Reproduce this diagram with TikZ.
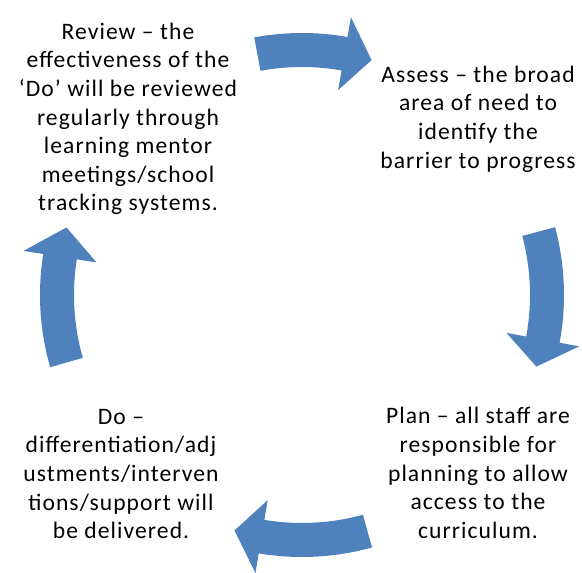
\documentclass[tikz,border=0pt]{standalone}
\usepackage{fontspec}
\setmainfont{Carlito}[LetterSpace=4.5]
\usepackage{xcolor}
\usepackage{tikz}
\usetikzlibrary{calc}

\definecolor{cycleblue}{RGB}{79,129,189}

% curved block arrow round the hub: tail angle, notch angle, tip angle
\newcommand{\cyclearrow}[3]{%
    \fill[arrow-fill] ([shift={(hub)}]#1:228) arc[start angle=#1, end angle=#2, radius=228]
        -- ([shift={(hub)}]#2:208) -- ([shift={(hub)}]#3:245)
        -- ([shift={(hub)}]#2:282) -- ([shift={(hub)}]#2:262)
        arc[start angle=#2, end angle=#1, radius=262] -- cycle;%
}

\begin{document}
\begin{tikzpicture}[
        x=0.5pt, y=0.5pt,
        step-text/.style={align=center, inner sep=0pt, font=\fontsize{11.8}{14.3}\selectfont},
        arrow-fill/.style={fill=cycleblue}
    ]
        \useasboundingbox (0, 0) rectangle (582, 572);
        \coordinate (hub) at (302, 277);

        \node[step-text] (review) at (128, 453) {Review – the\\effectiveness of the\\‘Do’ will be reviewed\\regularly through\\learning mentor\\meetings/school\\tracking systems.};
        \node[step-text] (assess) at (478, 453) {Assess – the broad\\area of need to\\identify the\\barrier to progress};
        \node[step-text] (plan) at (478, 99) {Plan – all staff are\\responsible for\\planning to allow\\access to the\\curriculum.};
        \node[step-text] (do) at (121, 98) {Do –\\differentiation/adj\\ustments/interven\\tions/support will\\be delivered.};

        \cyclearrow{100.5}{80}{73.5}
        \cyclearrow{15}{-10.5}{-17}
        \cyclearrow{-74.5}{-99.5}{-106}
        \cyclearrow{196}{171}{164}
    \end{tikzpicture}
\end{document}
